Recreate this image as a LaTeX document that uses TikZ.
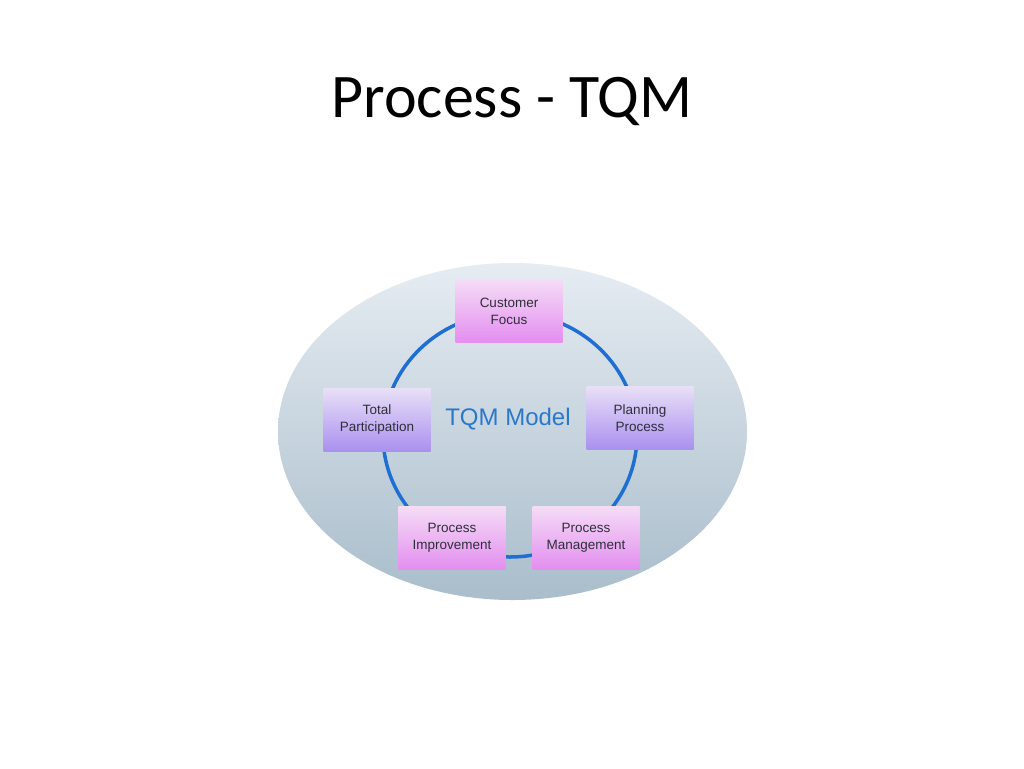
\documentclass[tikz,border=0pt]{standalone}
\usepackage{fontspec}
\setmainfont{Liberation Sans}
\newfontfamily\titlefont{Carlito}
\usepackage{xcolor}
\usepackage{tikz}
\usetikzlibrary{shapes.geometric}
\usetikzlibrary{arrows,shapes}

\definecolor{ringblue}{HTML}{1E6ED4}
\definecolor{modelblue}{HTML}{2A78CC}
\definecolor{boxtext}{HTML}{2E2E3A}
\definecolor{pinktop}{HTML}{F5DCF6}
\definecolor{pinkbot}{HTML}{E38EEF}
\definecolor{lilactop}{HTML}{E8DFF7}
\definecolor{lilacbot}{HTML}{AA90EF}
\definecolor{ovaltop}{HTML}{E6ECF2}
\definecolor{ovalbot}{HTML}{A9BDCB}
\tikzset{
  pinkbox/.style={rectangle, minimum width=107pt, minimum height=63pt, inner sep=2pt,
    top color=pinktop, bottom color=pinkbot, align=center, text=boxtext,
    font=\fontsize{13.5}{17}\selectfont},
  lilacbox/.style={pinkbox, top color=lilactop, bottom color=lilacbot},
  ring/.style={ringblue, line width=3.5pt}
}

\begin{document}
\begin{tikzpicture}[x=1pt,y=-1pt]
\useasboundingbox[fill=white] (0,0) rectangle (1024,768);

\node[anchor=base, font=\titlefont\fontsize{62}{70}\selectfont] (title) at (512,117) {Process - TQM};

\shade[top color=ovaltop, bottom color=ovalbot]
  (512.5,431.5) ellipse [x radius=234.5, y radius=168.5];

\coordinate (hub) at (510,435);
\draw[ring] (hub) ellipse [x radius=127, y radius=122];

\node[pinkbox] (cf) at (509,311) {Customer\\Focus};
\node[lilacbox] (pp) at (640,418) {Planning\\Process};
\node[pinkbox] (pm) at (586,538) {Process\\Management};
\node[pinkbox] (pi) at (452,538) {Process\\Improvement};
\node[lilacbox] (tp) at (377,420) {Total\\Participation};

\node[text=modelblue, font=\fontsize{24}{28}\selectfont] (model) at (508,419) {TQM Model};

\end{tikzpicture}
\end{document}
